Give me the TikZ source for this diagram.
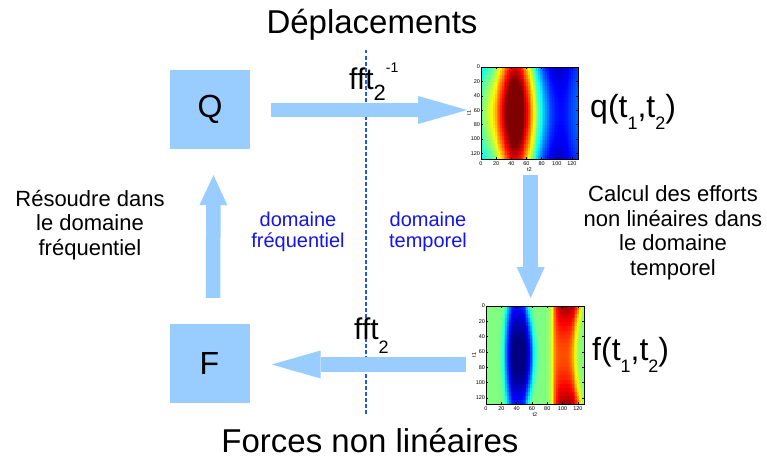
\documentclass[tikz,border=0pt]{standalone}
\usepackage{fontspec}
\setmainfont{Liberation Sans}
\usetikzlibrary{arrows.meta}
\definecolor{lb}{RGB}{153,204,255}
\definecolor{dtxt}{RGB}{20,20,235}
\definecolor{dline}{RGB}{30,90,230}
\newcommand\fs[1]{\fontsize{#1}{#1}\selectfont}
% value of map 1 (q) at t2=\htt, s=\hs
\newcommand\valq{%
  \pgfmathsetmacro\hv{0.5+0.5*((1.7+0.34*\hs)*exp(-((\htt-45)/(28+2.7*\hs))^2)-0.9+0.1*\hs+0.5*exp(-(\htt/20)^2)+0.25*exp(-((\htt-128)/15)^2))}%
}
\newcommand\valf{%
  \pgfmathsetmacro\hb{exp(-min(30,(((\htt-41-2*\hs)/(13.9+4.3*\hs))^2)^2))}%
  \pgfmathsetmacro\hr{exp(-min(30,(((\htt-105+4*\hs)/(17.7-2.2*\hs))^2)^2))}%
  \pgfmathsetmacro\hv{0.5-(0.35+0.17*\hs)*\hb+(0.47-0.17*\hs)*\hr}%
}
\newcommand\heatmap[5]{%
 \foreach \i in {0,...,55}{%
  \foreach \j in {0,...,23}{%
   \pgfmathsetmacro\htt{(\i+0.5)/56*128}%
   \pgfmathsetmacro\hs{sin(180*(\j+0.5)/24)}%
   \ifnum#5=1 \valq\else\valf\fi
   \pgfmathsetmacro\hv{max(0,min(1,\hv))}%
   \pgfmathsetmacro\cR{max(0,min(1,min(4*\hv-1.5,4.5-4*\hv)))}%
   \pgfmathsetmacro\cG{max(0,min(1,min(4*\hv-0.5,3.5-4*\hv)))}%
   \pgfmathsetmacro\cB{max(0,min(1,min(4*\hv+0.5,2.5-4*\hv)))}%
   \definecolor{cc}{rgb}{\cR,\cG,\cB}%
   \fill[cc] ({#1+\i*#3/56},{#2+\j*#4/24}) rectangle ++({#3/56+0.4},{#4/24+0.4});
  }}%
}
\newcommand\hmaxes[5]{%
 \draw[line width=0.4pt] (#1,#2) rectangle ++(#3,#4);
 \foreach \t in {0,20,...,120}{%
   \draw[line width=0.3pt] ({#1+\t*#3/128},{#2+#4}) -- ++(0,-1.8);
   \draw[line width=0.3pt] ({#1+\t*#3/128},{#2}) -- ++(0,1.8);
   \draw[line width=0.3pt] ({#1},{#2+\t*#4/128}) -- ++(1.8,0);
   \draw[line width=0.3pt] ({#1+#3},{#2+\t*#4/128}) -- ++(-1.8,0);
   \node[ticklab,anchor=north] (#5x\t) at ({#1+\t*#3/128},{#2+#4+2.5}) {\t};
   \node[ticklab,anchor=east] (#5y\t) at ({#1-0.8},{#2+\t*#4/128}) {\t};
 }
 \node[ticklab,anchor=north] (#5xl) at ({#1+#3/2},{#2+#4+8}) {t2};
 \node[ticklab,rotate=90,anchor=south] (#5yl) at ({#1-10},{#2+#4/2}) {t1};
}
\begin{document}
\begin{tikzpicture}[x=1pt,y=-1pt,
  box/.style={fill=lb, minimum width=80pt, minimum height=79pt, inner sep=0pt, font=\fs{32}},
  bigarrow/.style={draw=lb, line width=14.5pt, -{Triangle[length=#1,width=28pt,line width=0pt]}},
  ticklab/.style={inner sep=0pt, font=\fs{5.5}},
  hm/.style={inner sep=0pt, anchor=north west},
  title/.style={inner sep=0pt, anchor=base, font=\fs{33}},
  lab/.style={inner sep=0pt, anchor=base west},
  side/.style={inner sep=0pt, anchor=base, align=center, font=\fontsize{22}{24.5}\selectfont},
  dom/.style={inner sep=0pt, anchor=base, align=center, text=dtxt, font=\fontsize{20}{21}\selectfont},
  divline/.style={draw=dline, line width=1.6pt, dash pattern=on 3.5pt off 2.5pt}
]
\useasboundingbox (0,0) rectangle (767,460);
\fill[white] (0,0) rectangle (767,460);

% heatmaps
\node[hm, minimum width=97pt, minimum height=92pt] (m1) at (481,67) {};
\node[hm, minimum width=98pt, minimum height=98pt] (m2) at (486,306) {};
\heatmap{481}{67}{97}{92}{1}
\heatmap{486}{306}{98}{98}{2}
\hmaxes{481}{67}{97}{92}{a}
\hmaxes{486}{306}{98}{98}{b}

% boxes
\node[box] (Q) at (210,109.5) {Q};
\node[box] (F) at (209.5,363.5) {F};

% divider
\coordinate (dt) at (366,50);
\coordinate (db) at (366,415);
\draw[divline] (dt) -- (db);

% arrows
\coordinate (a1e) at (m1.west |- Q.east);
\draw[bigarrow=49pt] ([xshift=21pt,yshift=-0.5pt]Q.east) -- ([xshift=-14pt,yshift=-0.5pt]a1e);
\coordinate (a2e) at (m1.south |- m2.north);
\draw[bigarrow=31pt] ([xshift=1pt,yshift=-16pt]m1.south) -- ([xshift=1pt,yshift=8pt]a2e);
\draw[bigarrow=30pt] ([xshift=3.5pt,yshift=26pt]F.north) -- ([xshift=3.5pt,yshift=-26pt]Q.south);
\coordinate (a4s) at (m2.west |- F.east);
\draw[bigarrow=49pt] ([xshift=-20pt,yshift=-1pt]a4s) -- ([xshift=22pt,yshift=-1pt]F.east);

% titles
\node[title] (tdep) at (372,34) {Déplacements};
\node[title] (tfor) at (370,452) {Forces non linéaires};

% fft labels
\node[lab] (lfft1) at (349,89) {{\fs{30}fft}\raisebox{-11pt}{\fs{22}2}\raisebox{17pt}{\fs{14}-1}};
\node[lab] (lfft2) at (354,339) {{\fs{30}fft}\raisebox{-14pt}{\fs{18}2}};

% q and f labels
\node[lab] (lq) at (590,117) {{\fs{32}q(t}\raisebox{-12pt}{\fs{18}1}{\fs{32},t}\raisebox{-12pt}{\fs{18}2}{\fs{32})}};
\node[lab] (lf) at (592,360) {{\fs{32}f(t}\raisebox{-12pt}{\fs{18}1}{\fs{32},t}\raisebox{-12pt}{\fs{18}2}{\fs{32})}};

% side texts (base = last line)
\node[side] (tres) at (90,255) {Résoudre dans\\le domaine\\fréquentiel};
\node[side] (tcal) at (673,275) {Calcul des efforts\\non linéaires dans\\le domaine\\temporel};
\node[dom] (dfreq) at (298,247) {domaine\\fréquentiel};
\node[dom] (dtemp) at (428,247) {domaine\\temporel};
\end{tikzpicture}
\end{document}
